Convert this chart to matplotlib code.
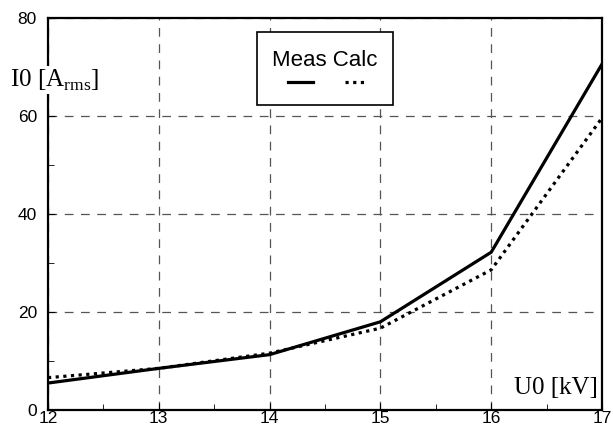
import matplotlib
matplotlib.use('AGG')
import matplotlib.pyplot as plt
from matplotlib.ticker import MultipleLocator

u0 = [12, 13, 14, 15, 16, 17]
i_meas = [5.5, 8.5, 11.3, 18.0, 32.2, 70.6]
i_calc = [6.6, 8.5, 11.6, 16.7, 28.6, 59.6]

plt.rcParams['font.family'] = ['Liberation Sans', 'DejaVu Sans']
fig = plt.figure(figsize=(6.13, 4.34), dpi=100)
ax = fig.add_axes([48 / 613, 24 / 434, 554 / 613, 392 / 434])

ax.plot(u0, i_meas, color='black', lw=2.3, solid_joinstyle='miter')
ax.plot(u0, i_calc, color='black', lw=2.3, linestyle=(0, (1, 1.4)))

ax.set_xlim(12, 17)
ax.set_ylim(0, 80)
ax.xaxis.set_major_locator(MultipleLocator(1))
ax.xaxis.set_minor_locator(MultipleLocator(0.5))
ax.yaxis.set_major_locator(MultipleLocator(20))
ax.yaxis.set_minor_locator(MultipleLocator(10))
ax.tick_params(which='both', direction='in', labelsize=12.5, color='black')
ax.tick_params(which='major', length=5)
ax.tick_params(axis='x', pad=1)
ax.tick_params(axis='y', pad=8)
ax.tick_params(which='minor', length=4)
ax.grid(True, which='major', color='#555555', linestyle=(0, (7, 6)), lw=0.9)
for s in ax.spines.values():
    s.set_linewidth(1.6)

# axis labels inside the frame, serif like the original
fig.text(10 / 613, 1 - 80 / 434, 'I0 [A$_{\\mathregular{rms}}$]',
         family='Liberation Serif', fontsize=18, ha='left', va='center',
         bbox=dict(facecolor='white', edgecolor='none', pad=1), zorder=5)
ax.text(0.993, 0.057, 'U0 [kV]', transform=ax.transAxes,
        family='Liberation Serif', fontsize=18, ha='right', va='center',
        bbox=dict(facecolor='white', edgecolor='none', pad=1), zorder=5)

# legend box
fig.patches.append(plt.Rectangle((257 / 613, 1 - 105 / 434), 136 / 613, 73 / 434,
                                 transform=fig.transFigure, facecolor='white',
                                 edgecolor='black', lw=1.2, zorder=6))
fig.text(325 / 613, 1 - 66 / 434, 'Meas Calc', fontsize=16, ha='center',
         va='baseline', zorder=7)
fig.add_artist(plt.Line2D([288 / 613, 313 / 613], [1 - 82 / 434] * 2,
                          color='black', lw=2.3, transform=fig.transFigure, zorder=7))
fig.add_artist(plt.Line2D([345 / 613, 367 / 613], [1 - 82 / 434] * 2,
                          color='black', lw=2.3, linestyle=(0, (1, 1.4)),
                          transform=fig.transFigure, zorder=7))

plt.savefig('out.png')
